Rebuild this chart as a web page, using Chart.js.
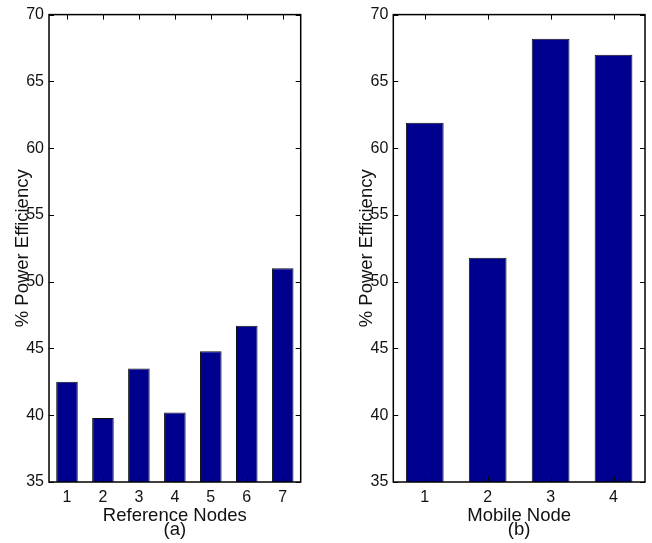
<!DOCTYPE html>
<html>
<head>
<meta charset="utf-8">
<script src="https://cdn.jsdelivr.net/npm/chart.js@4"></script>
<style>
  html, body { margin: 0; padding: 0; background: #fff; }
  #wrap { position: relative; width: 652px; height: 543px; }
  .pane { position: absolute; top: 0; }
</style>
</head>
<body>
<div id="wrap">
  <canvas id="left" class="pane" width="326" height="543" style="left:0px"></canvas>
  <canvas id="right" class="pane" width="326" height="543" style="left:326px"></canvas>
</div>
<script>
// ---- data ----
const refNodes = ['1', '2', '3', '4', '5', '6', '7'];
const refEfficiency = [42.5, 39.8, 43.5, 40.2, 44.8, 46.7, 51.0];
const mobileNodes = ['1', '2', '3', '4'];
const mobileEfficiency = [61.9, 51.8, 68.2, 67.0];
const yMin = 35, yMax = 70, yStep = 5;
const yTitle = '% Power Efficiency';
const leftXTitle = ['Reference Nodes', '(a)'];
const rightXTitle = ['Mobile Node', '(b)'];

const FONT = '"Liberation Sans", Arial, Helvetica, sans-serif';
const BAR_FILL = '#00008F';

function framePlugin(xTitleLines) {
  return {
    id: 'matlabFrame',
    afterDraw(chart) {
      const ctx = chart.ctx;
      const a = chart.chartArea;
      const xs = chart.scales.x, ys = chart.scales.y;
      ctx.save();
      ctx.strokeStyle = '#000';
      // inward ticks
      ctx.lineWidth = 1;
      ctx.beginPath();
      ys.ticks.forEach(t => {
        const y = Math.round(ys.getPixelForValue(t.value)) + 0.5;
        ctx.moveTo(a.left, y); ctx.lineTo(a.left + 5, y);
        ctx.moveTo(a.right, y); ctx.lineTo(a.right - 5, y);
      });
      xs.ticks.forEach((t, i) => {
        const x = Math.round(xs.getPixelForTick(i)) + 0.5;
        ctx.moveTo(x, a.bottom); ctx.lineTo(x, a.bottom - 5);
        ctx.moveTo(x, a.top); ctx.lineTo(x, a.top + 5);
      });
      ctx.stroke();
      // frame
      ctx.lineWidth = 1.5;
      ctx.strokeRect(a.left, a.top, a.right - a.left, a.bottom - a.top);
      // titles
      ctx.fillStyle = '#111';
      ctx.font = '18.5px ' + FONT;
      ctx.textAlign = 'center';
      ctx.textBaseline = 'alphabetic';
      const cx = (a.left + a.right) / 2;
      ctx.fillText(xTitleLines[0], cx, a.bottom + 38.7);
      ctx.fillText(xTitleLines[1], cx, a.bottom + 53.4);
      ctx.translate(a.left - 21.5, (a.top + a.bottom) / 2);
      ctx.rotate(-Math.PI / 2);
      ctx.fillText(yTitle, 0, 0);
      ctx.restore();
    }
  };
}

function makeChart(id, labels, values, xTitleLines, yWidth, padRight) {
  return new Chart(document.getElementById(id), {
    type: 'bar',
    data: {
      labels: labels,
      datasets: [{
        data: values,
        backgroundColor: BAR_FILL,
        borderColor: '#111',
        borderWidth: 1,
        barPercentage: 0.6,
        categoryPercentage: 1.0
      }]
    },
    options: {
      responsive: false,
      animation: false,
      devicePixelRatio: 1,
      layout: { padding: { left: 0, right: padRight, top: 12, bottom: 0 } },
      plugins: { legend: { display: false }, tooltip: { enabled: false } },
      scales: {
        x: {
          type: 'category',
          offset: true,
          grid: { display: false, drawTicks: false },
          border: { display: false },
          ticks: { color: '#111', font: { family: FONT, size: 16 }, padding: 6, maxRotation: 0 },
          afterFit(s) { s.height = 61; }
        },
        y: {
          min: yMin, max: yMax,
          grid: { display: false, drawTicks: false },
          border: { display: false },
          ticks: { stepSize: yStep, color: '#111', font: { family: FONT, size: 16 }, padding: 5 },
          afterFit(s) { s.width = yWidth; }
        }
      }
    },
    plugins: [framePlugin(xTitleLines)]
  });
}

makeChart('left', refNodes, refEfficiency, leftXTitle, 49, 25.3);
makeChart('right', mobileNodes, mobileEfficiency, rightXTitle, 67.3, 7);
</script>
</body>
</html>
